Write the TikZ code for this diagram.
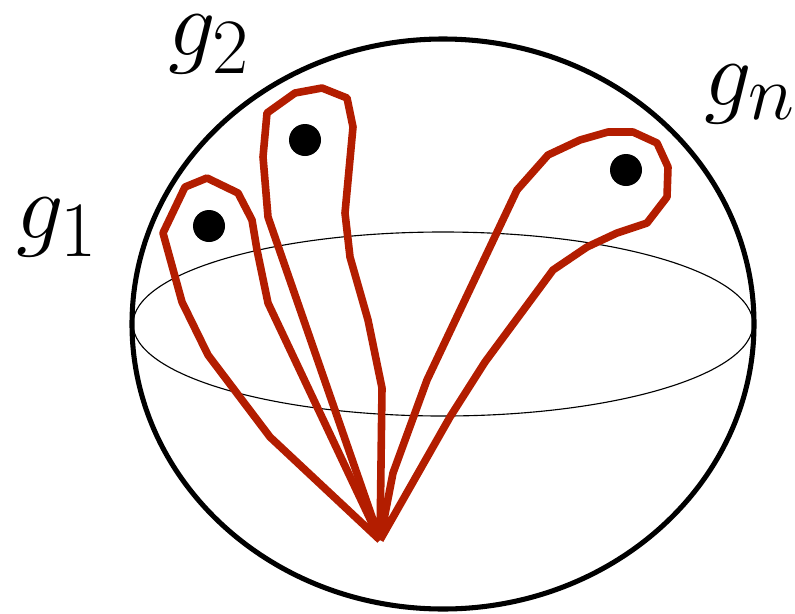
\documentclass[tikz,border=0pt]{standalone}
\usepackage{tikz}
\definecolor{LoopRed}{HTML}{B31D00}
\begin{document}
\begin{tikzpicture}[
    x=0.025cm,y=-0.025cm,
    sphere/.style={draw=black,line width=3.6pt},
    equator/.style={draw=black,line width=0.8pt},
    loopline/.style={draw=LoopRed,line width=5.4pt,line join=round},
    puncture/.style={circle,fill=black,inner sep=0pt,minimum size=0.8cm},
    gen/.style={anchor=base west,inner sep=0pt,scale=2.69,
      font=\fontsize{24.88}{30}\selectfont}
  ]
  \useasboundingbox (0,0) rectangle (795,613);

  % sphere and equator
  \draw[sphere] (443,324) ellipse [x radius=311,y radius=285];
  \draw[equator] (443,324) ellipse [x radius=310,y radius=92];

  % loops from the base point
  \coordinate (base) at (380,540);
  \draw[loopline] (base) -- (270,437) -- (208,355) -- (182,302) -- (163,233)
    -- (185,187) -- (207,178) -- (238,193) -- (252,220) -- (257,250)
    -- (268,303) -- (base);
  \draw[loopline] (base) -- (268,217) -- (263,157) -- (267,113) -- (295,93)
    -- (322,88) -- (347,98) -- (353,127) -- (345,213) -- (350,257)
    -- (368,320) -- (382,388) -- (base);
  \draw[loopline] (base) -- (393,473) -- (427,380) -- (517,190) -- (548,155)
    -- (580,140) -- (608,132) -- (633,132) -- (657,143) -- (668,167)
    -- (667,197) -- (647,223) -- (617,233) -- (587,247) -- (553,270)
    -- (485,362) -- (450,417) -- (base);

  % punctures
  \node[puncture] (p1) at (209,226) {};
  \node[puncture] (p2) at (305,140) {};
  \node[puncture] (pn) at (626,170) {};

  % labels
  \node[gen] (g1) at (16,238) {$g_1$};
  \node[gen] (g2) at (168,55) {$g_2$};
  \node[gen] (gn) at (704,105) {$g_n$};
\end{tikzpicture}
\end{document}
